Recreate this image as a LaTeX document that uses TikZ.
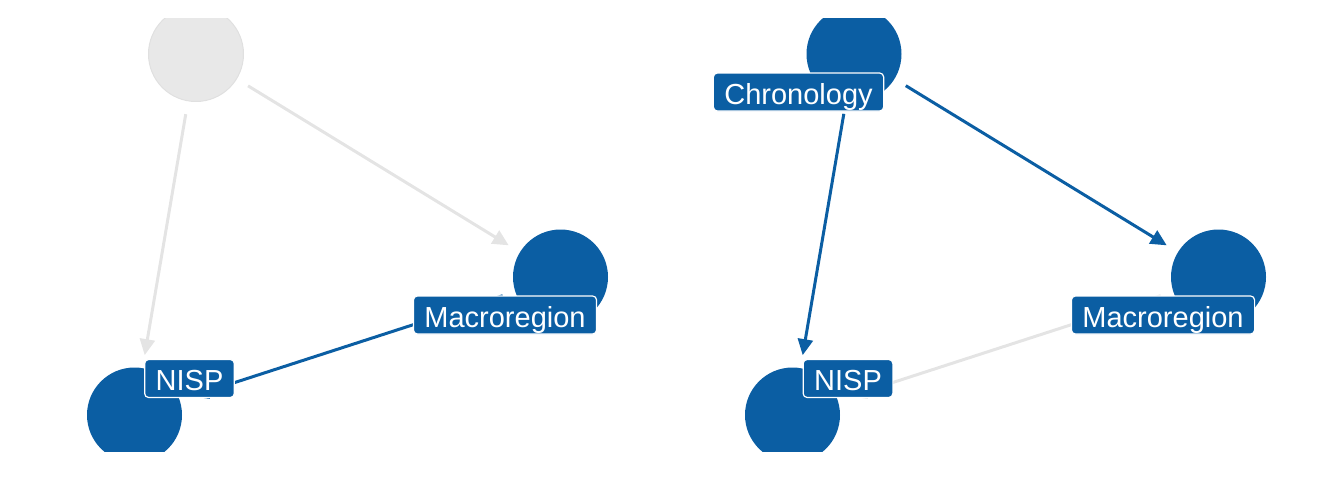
\documentclass[tikz,border=0pt]{standalone}
\usepackage{fontspec}
\setmainfont{Liberation Sans}
\usetikzlibrary{arrows.meta}
\definecolor{dagblue}{HTML}{0B5EA3}
\definecolor{dagfill}{HTML}{E8E8E8}
\definecolor{dagline}{HTML}{E4E4E4}

\begin{document}
\begin{tikzpicture}[x=1pt,y=-1pt,
  on/.style={circle,fill=dagblue,minimum size=95pt,inner sep=0pt},
  off/.style={circle,fill=dagfill,draw=black!12,line width=1pt,minimum size=95pt,inner sep=0pt},
  edgeon/.style={draw=dagblue,line width=3pt,-{Triangle[length=16pt,width=15pt]},shorten <=13pt,shorten >=13pt},
  edgeoff/.style={draw=dagline,line width=3pt,-{Triangle[length=16pt,width=15pt]},shorten <=13pt,shorten >=13pt},
  lbl/.style={fill=dagblue,draw=white,line width=1.2pt,rounded corners=4pt,text=white,
    font=\fontsize{29}{34}\selectfont,inner xsep=11pt,inner ysep=7pt,text height=24pt,text depth=0pt}]
\useasboundingbox (0,0) rectangle (1344,480);
\clip (0,18) rectangle (1344,451);

% left panel
\node[off] (chr1) at (196,54) {};
\node[on] (mac1) at (560.5,277) {};
\node[on] (nisp1) at (134.5,415) {};
\draw[edgeoff] (chr1) -- (nisp1);
\draw[edgeoff] (chr1) -- (mac1);
\draw[edgeon] (mac1) -- (nisp1);
\node[lbl] (macl1) at (505,315) {Macroregion};
\node[lbl] (nispl1) at (189.5,378.5) {NISP};

% right panel
\node[on] (chr2) at (854,54) {};
\node[on] (mac2) at (1218.5,277) {};
\node[on] (nisp2) at (792.5,415) {};
\draw[edgeon] (chr2) -- (nisp2);
\draw[edgeon] (chr2) -- (mac2);
\draw[edgeoff] (mac2) -- (nisp2);
\node[lbl] (chrl2) at (798.5,92) {Chronology};
\node[lbl] (macl2) at (1163,315) {Macroregion};
\node[lbl] (nispl2) at (848,378.5) {NISP};
\end{tikzpicture}
\end{document}
